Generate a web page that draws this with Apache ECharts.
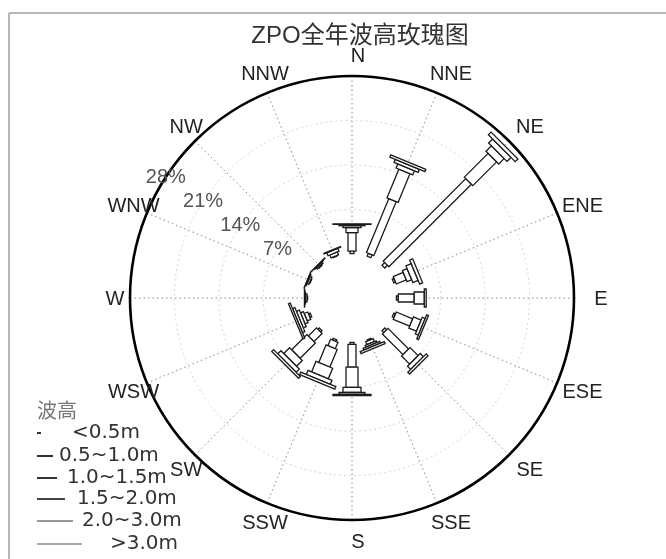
<!DOCTYPE html>
<html>
<head>
<meta charset="utf-8">
<script src="https://cdn.jsdelivr.net/npm/echarts@6/dist/echarts.min.js"></script>
<style>
  html, body { margin: 0; padding: 0; background: #fff; }
  #chart { width: 666px; height: 559px; }
</style>
</head>
<body>
<div id="chart"></div>
<script>
// Compass sectors, clockwise from north
const directions = ['N', 'NNE', 'NE', 'ENE', 'E', 'ESE', 'SE', 'SSE',
                    'S', 'SSW', 'SW', 'WSW', 'W', 'WNW', 'NW', 'NNW'];

// Wave-height classes
const binLabels = ['<0.5m', '0.5~1.0m', '1.0~1.5m', '1.5~2.0m', '2.0~3.0m', '>3.0m'];

// Frequency (%) of each wave-height class per direction
const hLt05   = [0.4, 0.5, 0.6, 0.3, 0.3, 0.3, 0.4, 0.2, 0.3, 0.3, 0.3, 0.3, 0.1, 0.1, 0.1, 0.1];
const h05to10 = [2.9, 9.2, 18.4, 1.7, 2.5, 2.8, 4.6, 0.5, 3.6, 1.1, 1.8, 0.6, 0.25, 0.3, 0.25, 0.5];
const h10to15 = [0.8, 4.9, 5.3, 0.8, 1.6, 1.3, 1.8, 0.3, 3.2, 3.0, 3.4, 0.5, 0.1, 0.15, 0.1, 0.5];
const h15to20 = [0.3, 0.7, 1.2, 0.9, 0.3, 0.5, 0.7, 0.3, 0.8, 1.8, 1.3, 0.5, 0.05, 0.05, 0.05, 0.1];
const h20to30 = [0.2, 0.5, 0.9, 0.5, 0, 0.3, 0.4, 0.35, 0.3, 0.7, 0.7, 0.4, 0, 0, 0, 0];
const hGt30   = [0.1, 0.4, 0.6, 0, 0, 0, 0, 0, 0.2, 0.4, 0.4, 0.3, 0, 0, 0, 0];

// Percentage rings
const ringTicks = [7, 14, 21, 28];
const ringLabels = ['7%', '14%', '21%', '28%'];

const bins = [hLt05, h05to10, h10to15, h15to20, h20to30, hGt30];
const sectorStep = 360 / directions.length;

// Drawing style
const barWidths = [4, 8, 12, 18, 26, 38];
const ringLabelBearing = 303;
const latinFont = '"Liberation Sans", Arial, sans-serif';
const cjkFont = '"Liberation Sans", "Noto Sans CJK SC", sans-serif';

// One item per (direction, class): [cumulative end, bearing, dirIndex, classIndex]
const barData = [];
directions.forEach((d, i) => {
  let cum = 0;
  bins.forEach((b, k) => {
    cum += b[i];
    barData.push([cum, i * sectorStep, i, k]);
  });
});

function renderBar(params, api) {
  const i = api.value(2), k = api.value(3);
  const v = bins[k][i];
  if (!v) return null;
  const c1 = api.value(0);
  const c0 = c1 - v;
  const ang = api.value(1);
  const cs = params.coordSys;
  const p0 = api.coord([c0, ang]);
  const p1 = api.coord([c1, ang]);
  const ux = p0[0] - cs.cx, uy = p0[1] - cs.cy;
  const len = Math.hypot(ux, uy) || 1;
  const hw = barWidths[k] / 2;
  const nx = -uy / len * hw, ny = ux / len * hw;
  return {
    type: 'polygon',
    shape: { points: [
      [p0[0] + nx, p0[1] + ny], [p1[0] + nx, p1[1] + ny],
      [p1[0] - nx, p1[1] - ny], [p0[0] - nx, p0[1] - ny]
    ] },
    style: { fill: '#fff', stroke: '#1a1a1a', lineWidth: 1.3 }
  };
}

function renderRingLabel(params, api) {
  const p = api.coord([api.value(0), api.value(1)]);
  return {
    type: 'text', x: p[0], y: p[1],
    style: {
      text: ringLabels[params.dataIndex], fill: '#555',
      font: '20px ' + latinFont, align: 'center', verticalAlign: 'middle'
    }
  };
}

function renderDirLabel(params, api) {
  const p = api.coord([api.value(0), api.value(1)]);
  return {
    type: 'text', x: p[0], y: p[1],
    style: {
      text: directions[params.dataIndex], fill: '#222',
      font: '20px ' + latinFont, align: 'center', verticalAlign: 'middle'
    }
  };
}

// Legend block
const legendX = 37;
const legendRowY = [433, 456, 478, 499, 521, 544];
const legendLineLen = [4, 16, 20, 28, 36, 45];
const legendLineColor = ['#333', '#333', '#333', '#444', '#999', '#aaa'];
const legendTextX = [72, 59, 67, 77, 82, 110];
const legendGraphics = [
  { type: 'text', x: legendX, y: 410,
    style: { text: '波高', fill: '#777', font: '20px "Noto Sans CJK SC", sans-serif', verticalAlign: 'middle' } }
];
binLabels.forEach((lab, k) => {
  legendGraphics.push({
    type: 'line',
    shape: { x1: legendX, y1: legendRowY[k], x2: legendX + legendLineLen[k], y2: legendRowY[k] },
    style: { stroke: legendLineColor[k], lineWidth: 2 }
  });
  legendGraphics.push({
    type: 'text', x: legendTextX[k], y: legendRowY[k],
    style: { text: lab, fill: '#333', font: '20px "DejaVu Sans", sans-serif', verticalAlign: 'middle' }
  });
});

const chart = echarts.init(document.getElementById('chart'), null, { renderer: 'canvas' });

const angleBase = { type: 'value', min: 0, max: 360, interval: sectorStep, startAngle: 90, clockwise: true };
const hiddenRadius = {
  type: 'value', min: 0, max: 1,
  axisLine: { show: false }, axisTick: { show: false }, axisLabel: { show: false }, splitLine: { show: false }
};

chart.setOption({
  backgroundColor: '#fff',
  animation: false,
  title: {
    text: 'ZPO全年波高玫瑰图',
    left: 355, top: 19, textAlign: 'center',
    textStyle: { fontSize: 24, fontWeight: 'normal', color: '#333', fontFamily: cjkFont }
  },
  polar: [
    { center: [352, 298], radius: [44.4, 222] },
    { center: [352, 298], radius: 222 },
    { center: [358, 299], radius: 243 }
  ],
  angleAxis: [
    Object.assign({}, angleBase, {
      polarIndex: 0,
      axisLine: { show: false }, axisTick: { show: false }, axisLabel: { show: false },
      splitLine: { show: true, lineStyle: { color: '#888', width: 1, type: [1.5, 3] } }
    }),
    Object.assign({}, angleBase, {
      polarIndex: 1,
      axisLine: { show: true, lineStyle: { color: '#000', width: 2.6 } },
      axisTick: { show: false }, axisLabel: { show: false }, splitLine: { show: false }
    }),
    Object.assign({}, angleBase, {
      polarIndex: 2,
      axisLine: { show: false }, axisTick: { show: false }, axisLabel: { show: false }, splitLine: { show: false }
    })
  ],
  radiusAxis: [
    {
      polarIndex: 0, type: 'value', min: 0, max: 28, interval: 7,
      axisLine: { show: false }, axisTick: { show: false }, axisLabel: { show: false },
      splitLine: { show: true, lineStyle: {
        color: ['rgba(0,0,0,0)', '#d4d4d4', '#d4d4d4', '#d4d4d4', 'rgba(0,0,0,0)'],
        width: 1, type: [2, 3]
      } }
    },
    Object.assign({ polarIndex: 1 }, hiddenRadius),
    Object.assign({ polarIndex: 2 }, hiddenRadius)
  ],
  series: [
    {
      type: 'custom', name: 'wave-height bars', coordinateSystem: 'polar', polarIndex: 0,
      renderItem: renderBar, data: barData, silent: true, z: 5
    },
    {
      type: 'custom', name: 'ring labels', coordinateSystem: 'polar', polarIndex: 0,
      renderItem: renderRingLabel, data: ringTicks.map(v => [v, ringLabelBearing]), silent: true, z: 6
    },
    {
      type: 'custom', name: 'direction labels', coordinateSystem: 'polar', polarIndex: 2,
      renderItem: renderDirLabel, data: directions.map((d, i) => [1, i * sectorStep]), silent: true, z: 6
    }
  ],
  graphic: [
    { type: 'line', shape: { x1: 9, y1: 13, x2: 666, y2: 13 }, style: { stroke: '#b8b8b8', lineWidth: 2 } },
    { type: 'line', shape: { x1: 9, y1: 13, x2: 9, y2: 559 }, style: { stroke: '#b8b8b8', lineWidth: 2 } }
  ].concat(legendGraphics)
});
</script>
</body>
</html>
